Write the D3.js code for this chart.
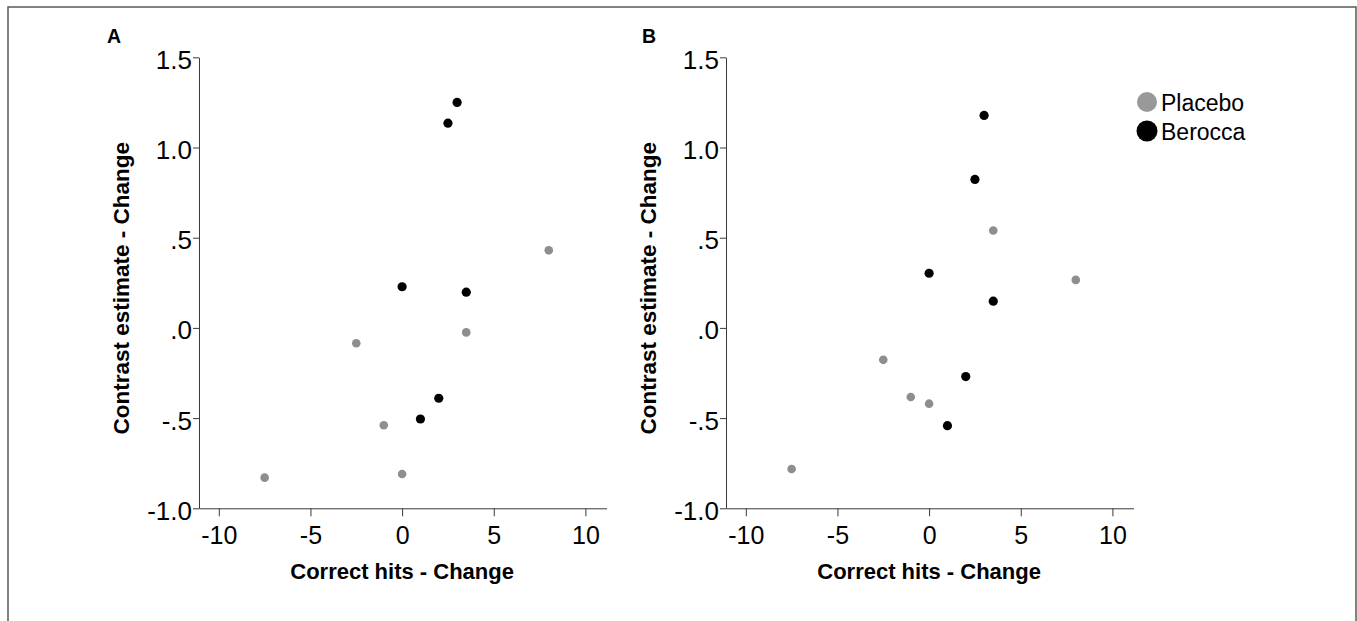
<!DOCTYPE html>
<html>
<head>
<meta charset="utf-8">
<script src="https://d3js.org/d3.v7.min.js"></script>
<style>
  html, body { margin: 0; padding: 0; background: #fff; }
  svg { display: block; }
  text { font-family: "Liberation Sans", Arial, sans-serif; }
</style>
</head>
<body>
<svg id="chart" width="1357" height="621"></svg>
<script>
// ---- data ----
const panels = ["A", "B"];
const seriesNames = ["Placebo", "Berocca"];
const seriesColors = ["#8e8e8e", "#000000"];

// Panel A
const placeboA_x = [8, 3.5, -2.5, -1, 0, -7.5];
const placeboA_y = [0.43, -0.025, -0.085, -0.54, -0.81, -0.83];
const beroccaA_x = [3, 2.5, 0, 3.5, 2, 1];
const beroccaA_y = [1.25, 1.135, 0.228, 0.198, -0.39, -0.505];

// Panel B
const placeboB_x = [3.5, 8, -2.5, -1, 0, -7.5];
const placeboB_y = [0.54, 0.266, -0.177, -0.383, -0.42, -0.782];
const beroccaB_x = [3, 2.5, 0, 3.5, 2, 1];
const beroccaB_y = [1.178, 0.823, 0.303, 0.148, -0.27, -0.542];

const xTickValues = [-10, -5, 0, 5, 10];
const xTickLabels = ["-10", "-5", "0", "5", "10"];
const yTickValues = [-1, -0.5, 0, 0.5, 1, 1.5];
const yTickLabels = ["-1.0", "-.5", ".0", ".5", "1.0", "1.5"];

const xTitle = "Correct hits - Change";
const yTitle = "Contrast estimate - Change";

// ---- layout ----
const svg = d3.select("#chart");

// outer frame
svg.append("rect")
  .attr("x", 8).attr("y", 7)
  .attr("width", 1348).attr("height", 700)
  .attr("fill", "none")
  .attr("stroke", "#5a5a5a")
  .attr("stroke-width", 1.5);

const yScale = d3.scaleLinear().domain([-1, 1.5]).range([508.3, 57.3]);

const panelLayout = [
  { left: 199, right: 606.5, labelX: 107, yTitleX: 129 },
  { left: 726, right: 1133.5, labelX: 642, yTitleX: 656 }
];

const panelData = [
  [ {x: placeboA_x, y: placeboA_y}, {x: beroccaA_x, y: beroccaA_y} ],
  [ {x: placeboB_x, y: placeboB_y}, {x: beroccaB_x, y: beroccaB_y} ]
];

const axisColor = "#3a3a3a";

panels.forEach((name, pi) => {
  const L = panelLayout[pi];
  const xScale = d3.scaleLinear().domain([-11.08, 11.15]).range([L.left, L.right]);
  const g = svg.append("g");

  // x axis
  const xAxis = d3.axisBottom(xScale)
    .tickValues(xTickValues)
    .tickFormat((d, i) => xTickLabels[i])
    .tickSizeInner(8).tickSizeOuter(0).tickPadding(10);
  const gx = g.append("g")
    .attr("transform", `translate(0,${yScale(-1)})`)
    .call(xAxis);
  gx.select(".domain").attr("stroke", axisColor);
  gx.selectAll(".tick line").attr("stroke", axisColor);
  gx.selectAll(".tick text")
    .attr("font-size", 25).attr("fill", "#000")
    .attr("font-family", "Liberation Sans, Arial, sans-serif");

  // y axis
  const yAxis = d3.axisLeft(yScale)
    .tickValues(yTickValues)
    .tickFormat((d, i) => yTickLabels[i])
    .tickSizeInner(6).tickSizeOuter(0).tickPadding(1);
  const gy = g.append("g")
    .attr("transform", `translate(${L.left},0)`)
    .call(yAxis);
  gy.select(".domain").attr("stroke", axisColor);
  gy.selectAll(".tick line").attr("stroke", axisColor);
  gy.selectAll(".tick text")
    .attr("font-size", 26).attr("fill", "#000").attr("dy", "0.42em")
    .attr("font-family", "Liberation Sans, Arial, sans-serif");

  // panel letter
  g.append("text")
    .attr("x", L.labelX).attr("y", 43)
    .attr("font-size", 19.5).attr("font-weight", "bold")
    .text(name);

  // x title
  g.append("text")
    .attr("x", xScale(0)).attr("y", 578.5)
    .attr("text-anchor", "middle")
    .attr("font-size", 22).attr("font-weight", "bold")
    .text(xTitle);

  // y title
  g.append("text")
    .attr("transform", `translate(${L.yTitleX},${yScale(0.22)}) rotate(-90)`)
    .attr("text-anchor", "middle")
    .attr("font-size", 22.5).attr("font-weight", "bold")
    .text(yTitle);

  // points
  panelData[pi].forEach((s, si) => {
    const pts = s.x.map((xv, k) => [xv, s.y[k]]);
    g.append("g").selectAll("circle")
      .data(pts).enter().append("circle")
      .attr("cx", d => xScale(d[0]))
      .attr("cy", d => yScale(d[1]))
      .attr("r", si === 0 ? 4.3 : 4.6)
      .attr("fill", seriesColors[si]);
  });
});

// legend
const legend = svg.append("g");
const legendY = [102, 131];
seriesNames.forEach((n, i) => {
  legend.append("circle")
    .attr("cx", 1147).attr("cy", legendY[i])
    .attr("r", i === 0 ? 10 : 10.5)
    .attr("fill", i === 0 ? "#999999" : "#000");
  legend.append("text")
    .attr("x", 1161).attr("y", legendY[i] + 8.5)
    .attr("font-size", 23).attr("fill", "#000")
    .text(n);
});
</script>
</body>
</html>
